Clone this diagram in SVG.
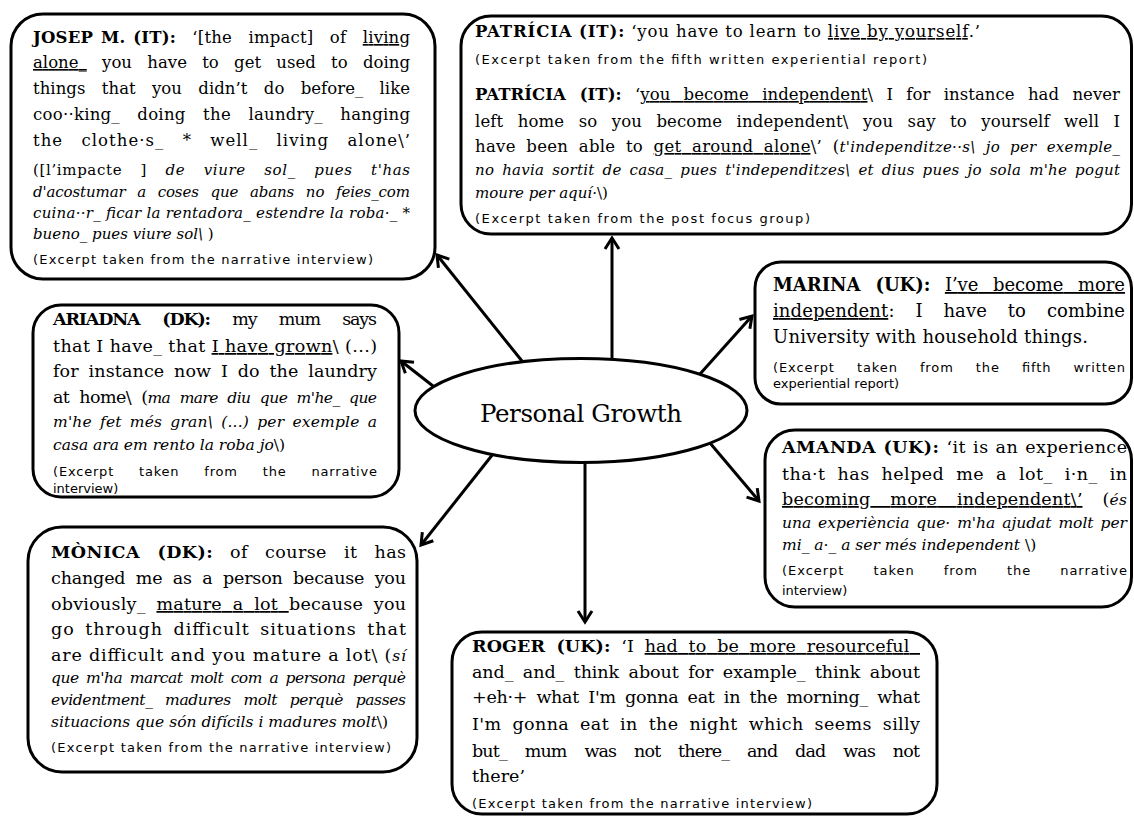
<svg xmlns="http://www.w3.org/2000/svg" width="1134" height="816" viewBox="0 0 1134 816">
  <style>
    .box { fill: #fff; stroke: #000; stroke-width: 3; }
    .t { font-family: "DejaVu Serif", "Liberation Serif", serif; fill: #000; }
    .s165 { font-size: 16.5px; }
    .s175 { font-size: 17.5px; }
    .s18 { font-size: 18px; }
    .i15 { font-size: 15px; font-style: italic; }
    .i155 { font-size: 15.5px; font-style: italic; }
    .r15 { font-size: 15px; }
    .r155 { font-size: 15.5px; }
    .bd { font-weight: bold; }
    .it { font-style: italic; }
    .u { text-decoration: underline; }
    .ex { font-family: "DejaVu Sans", "Liberation Sans", sans-serif; font-size: 13px; fill: #000; }
    .arrow { fill: none; stroke: #000; stroke-width: 3; marker-end: url(#ah); }
    .hub { font-family: "DejaVu Serif", "Liberation Serif", serif; font-size: 24.5px; fill: #000; }
  </style>
  <defs>
    <marker id="ah" viewBox="-14 -10 18 20" refX="0" refY="0" markerWidth="18" markerHeight="20" markerUnits="userSpaceOnUse" orient="auto" overflow="visible">
      <path d="M-11,-7 L0,0 L-11,7" fill="none" stroke="#000" stroke-width="3"/>
    </marker>
  </defs>

  <rect width="1134" height="816" fill="#fff"/>

  <!-- connectors from the hub to each quotation -->
  <g id="connectors">
    <line class="arrow" x1="522" y1="361" x2="437" y2="255"/>
    <line class="arrow" x1="433" y1="386" x2="401" y2="361"/>
    <line class="arrow" x1="612" y1="358" x2="612" y2="238"/>
    <line class="arrow" x1="700" y1="374" x2="752" y2="316"/>
    <line class="arrow" x1="710" y1="443" x2="759" y2="501"/>
    <line class="arrow" x1="585" y1="463" x2="585" y2="622"/>
    <line class="arrow" x1="493" y1="454" x2="421" y2="545"/>
  </g>

  <g id="hub">
    <ellipse cx="581" cy="410.5" rx="166" ry="52" fill="#fff" stroke="#000" stroke-width="3"/>
    <text class="hub" x="480" y="422" textLength="202" lengthAdjust="spacing">Personal Growth</text>
  </g>

  <g id="node-josep">
    <rect class="box" x="11" y="14" width="424" height="265" rx="32"/>
    <text class="t s165" x="33" y="43" textLength="377" lengthAdjust="spacing" style="word-spacing:11px"><tspan class="bd" style="word-spacing:2px">JOSEP M. (IT):</tspan> ‘[the impact] of <tspan class="u">living</tspan></text>
    <text class="t s165" x="33" y="68" textLength="377" lengthAdjust="spacing" style="word-spacing:10px"><tspan class="u">alone_</tspan> you have to get used to doing</text>
    <text class="t s165" x="33" y="94" textLength="377" lengthAdjust="spacing" style="word-spacing:11px">things that you didn’t do before_ like</text>
    <text class="t s165" x="33" y="120" textLength="377" lengthAdjust="spacing" style="word-spacing:12px">coo··king_ doing the laundry_ hanging</text>
    <text class="t s165" x="33" y="146" textLength="377" lengthAdjust="spacing" style="word-spacing:12px">the clothe·s_ * well_ living alone\’</text>
    <text class="t r15" x="33" y="175" textLength="377" lengthAdjust="spacing" style="word-spacing:13px">([l’impacte ] <tspan class="it">de viure sol_ pues t'has</tspan></text>
    <text class="t i15" x="33" y="197" textLength="377" lengthAdjust="spacing" style="word-spacing:7px">d'acostumar a coses que abans no feies_com</text>
    <text class="t i15" x="33" y="218" textLength="377" lengthAdjust="spacing">cuina··r_ ficar la rentadora_ estendre la roba·_ *</text>
    <text class="t r15" x="33" y="239"><tspan class="it">bueno_ pues viure sol\</tspan> )</text>
    <text class="ex" x="33" y="264" textLength="340" lengthAdjust="spacing">(Excerpt taken from the narrative interview)</text>
  </g>

  <g id="node-patricia">
    <rect class="box" x="461" y="16" width="670.5" height="218" rx="30"/>
    <text class="t s165" x="475" y="37" textLength="505" lengthAdjust="spacing"><tspan class="bd">PATRÍCIA (IT):</tspan> ‘you have to learn to <tspan class="u">live by yourself</tspan>.’</text>
    <text class="ex" x="475" y="64" textLength="452" lengthAdjust="spacing">(Excerpt taken from the fifth written experiential report)</text>
    <text class="t s165" x="475" y="100" textLength="645" lengthAdjust="spacing" style="word-spacing:8px"><tspan class="bd">PATRÍCIA (IT):</tspan> ‘<tspan class="u">you become independent</tspan>\ I for instance had never</text>
    <text class="t s165" x="475" y="127" textLength="645" lengthAdjust="spacing" style="word-spacing:9px">left home so you become independent\ you say to yourself well I</text>
    <text class="t s165" x="475" y="152" textLength="645" lengthAdjust="spacing" style="word-spacing:5px">have been able to <tspan class="u">get around alone</tspan>\’ (<tspan class="i15">t'independitze··s\ jo per exemple_</tspan></text>
    <text class="t i15" x="475" y="175" textLength="645" lengthAdjust="spacing" style="word-spacing:3px">no havia sortit de casa_ pues t'independitzes\ et dius pues jo sola m'he pogut</text>
    <text class="t r15" x="475" y="198"><tspan class="it">moure per aquí·</tspan>\)</text>
    <text class="ex" x="475" y="223" textLength="335" lengthAdjust="spacing">(Excerpt taken from the post focus group)</text>
  </g>

  <g id="node-ariadna">
    <rect class="box" x="33" y="305" width="366" height="192" rx="28"/>
    <text class="t s175" x="53" y="325" textLength="324" lengthAdjust="spacing" style="word-spacing:18px"><tspan class="bd">ARIADNA (DK):</tspan> my mum says</text>
    <text class="t s175" x="53" y="352" textLength="324" lengthAdjust="spacing">that I have_ that <tspan class="u">I have grown</tspan>\ (...)</text>
    <text class="t s175" x="53" y="377" textLength="324" lengthAdjust="spacing" style="word-spacing:4px">for instance now I do the laundry</text>
    <text class="t s175" x="53" y="403" textLength="324" lengthAdjust="spacing" style="word-spacing:5px">at home\ (<tspan class="i155">ma mare diu que m'he_ que</tspan></text>
    <text class="t i155" x="53" y="427" textLength="324" lengthAdjust="spacing" style="word-spacing:3px">m'he fet més gran\ (...) per exemple a</text>
    <text class="t r155" x="53" y="450"><tspan class="it">casa ara em rento la roba jo</tspan>\)</text>
    <text class="ex" x="53" y="476" textLength="324" lengthAdjust="spacing" style="word-spacing:20px">(Excerpt taken from the narrative</text>
    <text class="ex" x="53" y="493">interview)</text>
  </g>

  <g id="node-marina">
    <rect class="box" x="755" y="262" width="376.5" height="142" rx="26"/>
    <text class="t s18" x="773" y="291" textLength="352" lengthAdjust="spacing" style="word-spacing:9px"><tspan class="bd">MARINA (UK):</tspan> <tspan class="u">I’ve become more</tspan></text>
    <text class="t s18" x="773" y="317" textLength="352" lengthAdjust="spacing" style="word-spacing:15px"><tspan class="u">independent</tspan>: I have to combine</text>
    <text class="t s18" x="773" y="343" textLength="315" lengthAdjust="spacing">University with household things.</text>
    <text class="ex" x="773" y="372" textLength="352" lengthAdjust="spacing" style="word-spacing:17px">(Excerpt taken from the fifth written</text>
    <text class="ex" x="773" y="388">experiential report)</text>
  </g>

  <g id="node-amanda">
    <rect class="box" x="765" y="430" width="366.5" height="177" rx="30"/>
    <text class="t s175" x="782" y="453" textLength="345" lengthAdjust="spacing" style="word-spacing:1px"><tspan class="bd">AMANDA (UK):</tspan> ‘it is an experience</text>
    <text class="t s175" x="782" y="480" textLength="345" lengthAdjust="spacing" style="word-spacing:6px">tha·t has helped me a lot_ i·n_ in</text>
    <text class="t s175" x="782" y="505" textLength="345" lengthAdjust="spacing" style="word-spacing:14px"><tspan class="u">becoming more independent\’</tspan> (<tspan class="i155">és</tspan></text>
    <text class="t i155" x="782" y="528" textLength="345" lengthAdjust="spacing" style="word-spacing:2px">una experiència que· m'ha ajudat molt per</text>
    <text class="t r155" x="782" y="550"><tspan class="it">mi_ a·_ a ser més independent </tspan>\)</text>
    <text class="ex" x="782" y="575" textLength="345" lengthAdjust="spacing" style="word-spacing:24px">(Excerpt taken from the narrative</text>
    <text class="ex" x="782" y="595">interview)</text>
  </g>

  <g id="node-monica">
    <rect class="box" x="28" y="527" width="389" height="245" rx="34"/>
    <text class="t s175" x="51" y="558" textLength="355" lengthAdjust="spacing" style="word-spacing:11px"><tspan class="bd">MÒNICA (DK):</tspan> of course it has</text>
    <text class="t s175" x="51" y="584" textLength="355" lengthAdjust="spacing" style="word-spacing:5px">changed me as a person because you</text>
    <text class="t s175" x="51" y="610" textLength="355" lengthAdjust="spacing" style="word-spacing:5px">obviously_ <tspan class="u">mature a lot </tspan>because you</text>
    <text class="t s175" x="51" y="635" textLength="355" lengthAdjust="spacing" style="word-spacing:4px">go through difficult situations that</text>
    <text class="t s175" x="51" y="661" textLength="355" lengthAdjust="spacing">are difficult and you mature a lot\ (<tspan class="i155">sí</tspan></text>
    <text class="t i155" x="51" y="683" textLength="355" lengthAdjust="spacing" style="word-spacing:3px">que m'ha marcat molt com a persona perquè</text>
    <text class="t i155" x="51" y="705" textLength="355" lengthAdjust="spacing" style="word-spacing:8px">evidentment_ madures molt perquè passes</text>
    <text class="t r155" x="51" y="727"><tspan class="it">situacions que són difícils i madures molt</tspan>\)</text>
    <text class="ex" x="51" y="752" textLength="340" lengthAdjust="spacing">(Excerpt taken from the narrative interview)</text>
  </g>

  <g id="node-roger">
    <rect class="box" x="452" y="632" width="485" height="182" rx="30"/>
    <text class="t s175" x="472" y="652" textLength="448" lengthAdjust="spacing" style="word-spacing:5px"><tspan class="bd">ROGER (UK):</tspan> ‘I <tspan class="u">had to be more resourceful&#160;</tspan></text>
    <text class="t s175" x="472" y="678" textLength="448" lengthAdjust="spacing" style="word-spacing:4px">and_ and_ think about for example_ think about</text>
    <text class="t s175" x="472" y="703" textLength="448" lengthAdjust="spacing" style="word-spacing:4px">+eh·+ what I'm gonna eat in the morning_ what</text>
    <text class="t s175" x="472" y="730" textLength="448" lengthAdjust="spacing" style="word-spacing:5px">I'm gonna eat in the night which seems silly</text>
    <text class="t s175" x="472" y="757" textLength="448" lengthAdjust="spacing" style="word-spacing:13px">but_ mum was not there_ and dad was not</text>
    <text class="t s175" x="472" y="782">there’</text>
    <text class="ex" x="472" y="808" textLength="340" lengthAdjust="spacing">(Excerpt taken from the narrative interview)</text>
  </g>
</svg>
